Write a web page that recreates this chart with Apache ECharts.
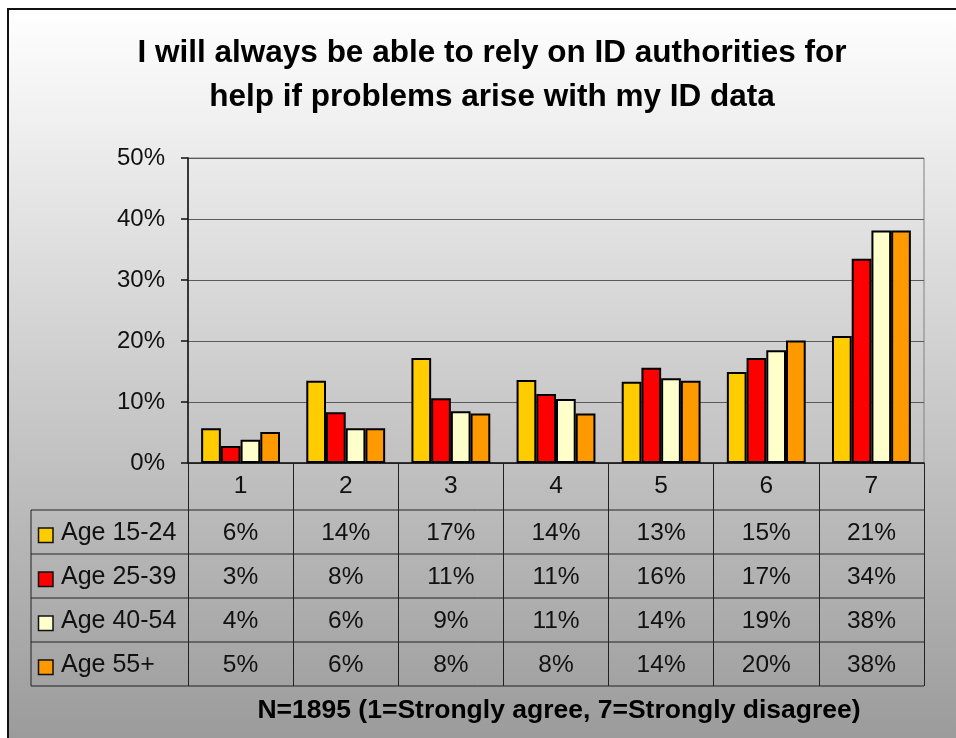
<!DOCTYPE html>
<html><head><meta charset="utf-8">
<script src="https://cdn.jsdelivr.net/npm/echarts@6/dist/echarts.min.js"></script>
<style>html,body{margin:0;padding:0;background:#fff}#c{width:956px;height:738px}</style>
</head><body><div id="c"></div>
<script>
// ---- data ----
const categories = ['1', '2', '3', '4', '5', '6', '7'];
const seriesNames = ['Age 15-24', 'Age 25-39', 'Age 40-54', 'Age 55+'];
const age15_24 = [5.7, 13.5, 17.2, 13.6, 13.3, 14.9, 20.8];
const age25_39 = [2.8, 8.3, 10.6, 11.3, 15.6, 17.2, 33.5];
const age40_54 = [3.8, 5.7, 8.5, 10.5, 13.9, 18.5, 38.1];
const age55plus = [5.1, 5.7, 8.1, 8.1, 13.5, 20.1, 38.1];
const yTicks = [0, 10, 20, 30, 40, 50];
const titleText = 'I will always be able to rely on ID authorities for\nhelp if problems arise with my ID data';
const footerText = 'N=1895 (1=Strongly agree, 7=Strongly disagree)';

// ---- style ----
const seriesData = [age15_24, age25_39, age40_54, age55plus];
const colors = ['#FFCC00', '#FF0000', '#FFFFCC', '#FF9900'];
const FONT = '"Liberation Sans", Arial, Helvetica, sans-serif';
const TXT = '#111';

const chart = echarts.init(document.getElementById('c'), null, { renderer: 'canvas' });

const option = {
  animation: false,
  backgroundColor: 'transparent',
  title: {
    text: titleText,
    left: 492,
    textAlign: 'center',
    top: 31,
    padding: 0,
    textStyle: { fontFamily: FONT, fontSize: 31.5, fontWeight: 'bold', color: '#000', lineHeight: 44 }
  },
  grid: { left: 188, top: 158, right: 32, bottom: 275, show: true, borderColor: '#808080', borderWidth: 1, backgroundColor: 'transparent' },
  xAxis: {
    type: 'category',
    data: categories,
    boundaryGap: true,
    axisLine: { show: true, lineStyle: { color: '#111', width: 1.5 } },
    axisTick: { show: true, length: 223, lineStyle: { color: '#222', width: 1 } },
    axisLabel: { fontFamily: FONT, fontSize: 24.5, color: TXT, margin: 23, verticalAlign: 'middle' },
    splitLine: { show: false }
  },
  yAxis: {
    type: 'value',
    min: yTicks[0],
    max: yTicks[yTicks.length - 1],
    interval: yTicks[1] - yTicks[0],
    axisLine: { show: true, lineStyle: { color: '#111', width: 1.5 } },
    axisTick: { show: true, length: 7, lineStyle: { color: '#111', width: 1.5 } },
    axisLabel: { fontFamily: FONT, fontSize: 24, color: TXT, margin: 23, formatter: '{value}%' },
    splitLine: { show: true, lineStyle: { color: '#5a5a5a', width: 1 } }
  },
  series: seriesNames.map((name, i) => ({
    name: name,
    type: 'bar',
    data: seriesData[i],
    barGap: '0%',
    barCategoryGap: '25%',
    itemStyle: { color: colors[i], borderColor: '#000', borderWidth: 2 },
    emphasis: { disabled: true }
  }))
};
chart.setOption(option);

// ---- data table beneath the plot, built from the same arrays ----
const centers = categories.map(c => chart.convertToPixel({ xAxisIndex: 0 }, c));
const bw = centers.length > 1 ? centers[1] - centers[0] : 100;
const plotRight = centers[centers.length - 1] + bw / 2;
const tableLeft = 31;
const rowLines = [510, 554, 598, 642, 686];

const g = [];
// background panel with border
g.push({
  type: 'rect', z: -100, silent: true,
  shape: { x: 8, y: 9, width: 980, height: 760 },
  style: {
    fill: { type: 'linear', x: 0, y: 0, x2: 0, y2: 1, colorStops: [{ offset: 0, color: '#ffffff' }, { offset: 1, color: '#979797' }] },
    stroke: '#111', lineWidth: 2
  }
});
rowLines.forEach(y => {
  g.push({ type: 'line', silent: true, shape: { x1: tableLeft, y1: y, x2: plotRight, y2: y }, style: { stroke: '#222', lineWidth: 1 } });
});
g.push({ type: 'line', silent: true, shape: { x1: tableLeft, y1: rowLines[0], x2: tableLeft, y2: rowLines[rowLines.length - 1] }, style: { stroke: '#222', lineWidth: 1 } });

seriesNames.forEach((name, i) => {
  const cy = (rowLines[i] + rowLines[i + 1]) / 2;
  g.push({ type: 'rect', silent: true, shape: { x: 38.5, y: cy - 4, width: 14.5, height: 14.5 }, style: { fill: colors[i], stroke: '#111', lineWidth: 1.5 } });
  g.push({ type: 'text', silent: true, x: 61, y: cy + 1, style: { text: name, font: '25px ' + FONT, fill: TXT, textAlign: 'left', textVerticalAlign: 'middle' } });
  seriesData[i].forEach((v, j) => {
    g.push({ type: 'text', silent: true, x: centers[j], y: cy + 1, style: { text: Math.round(v) + '%', font: '24.5px ' + FONT, fill: TXT, textAlign: 'center', textVerticalAlign: 'middle' } });
  });
});
g.push({ type: 'text', silent: true, x: 559, y: 711, style: { text: footerText, font: 'bold 26.5px ' + FONT, fill: '#000', textAlign: 'center', textVerticalAlign: 'middle' } });

chart.setOption({ graphic: { elements: g } });
</script></body></html>
